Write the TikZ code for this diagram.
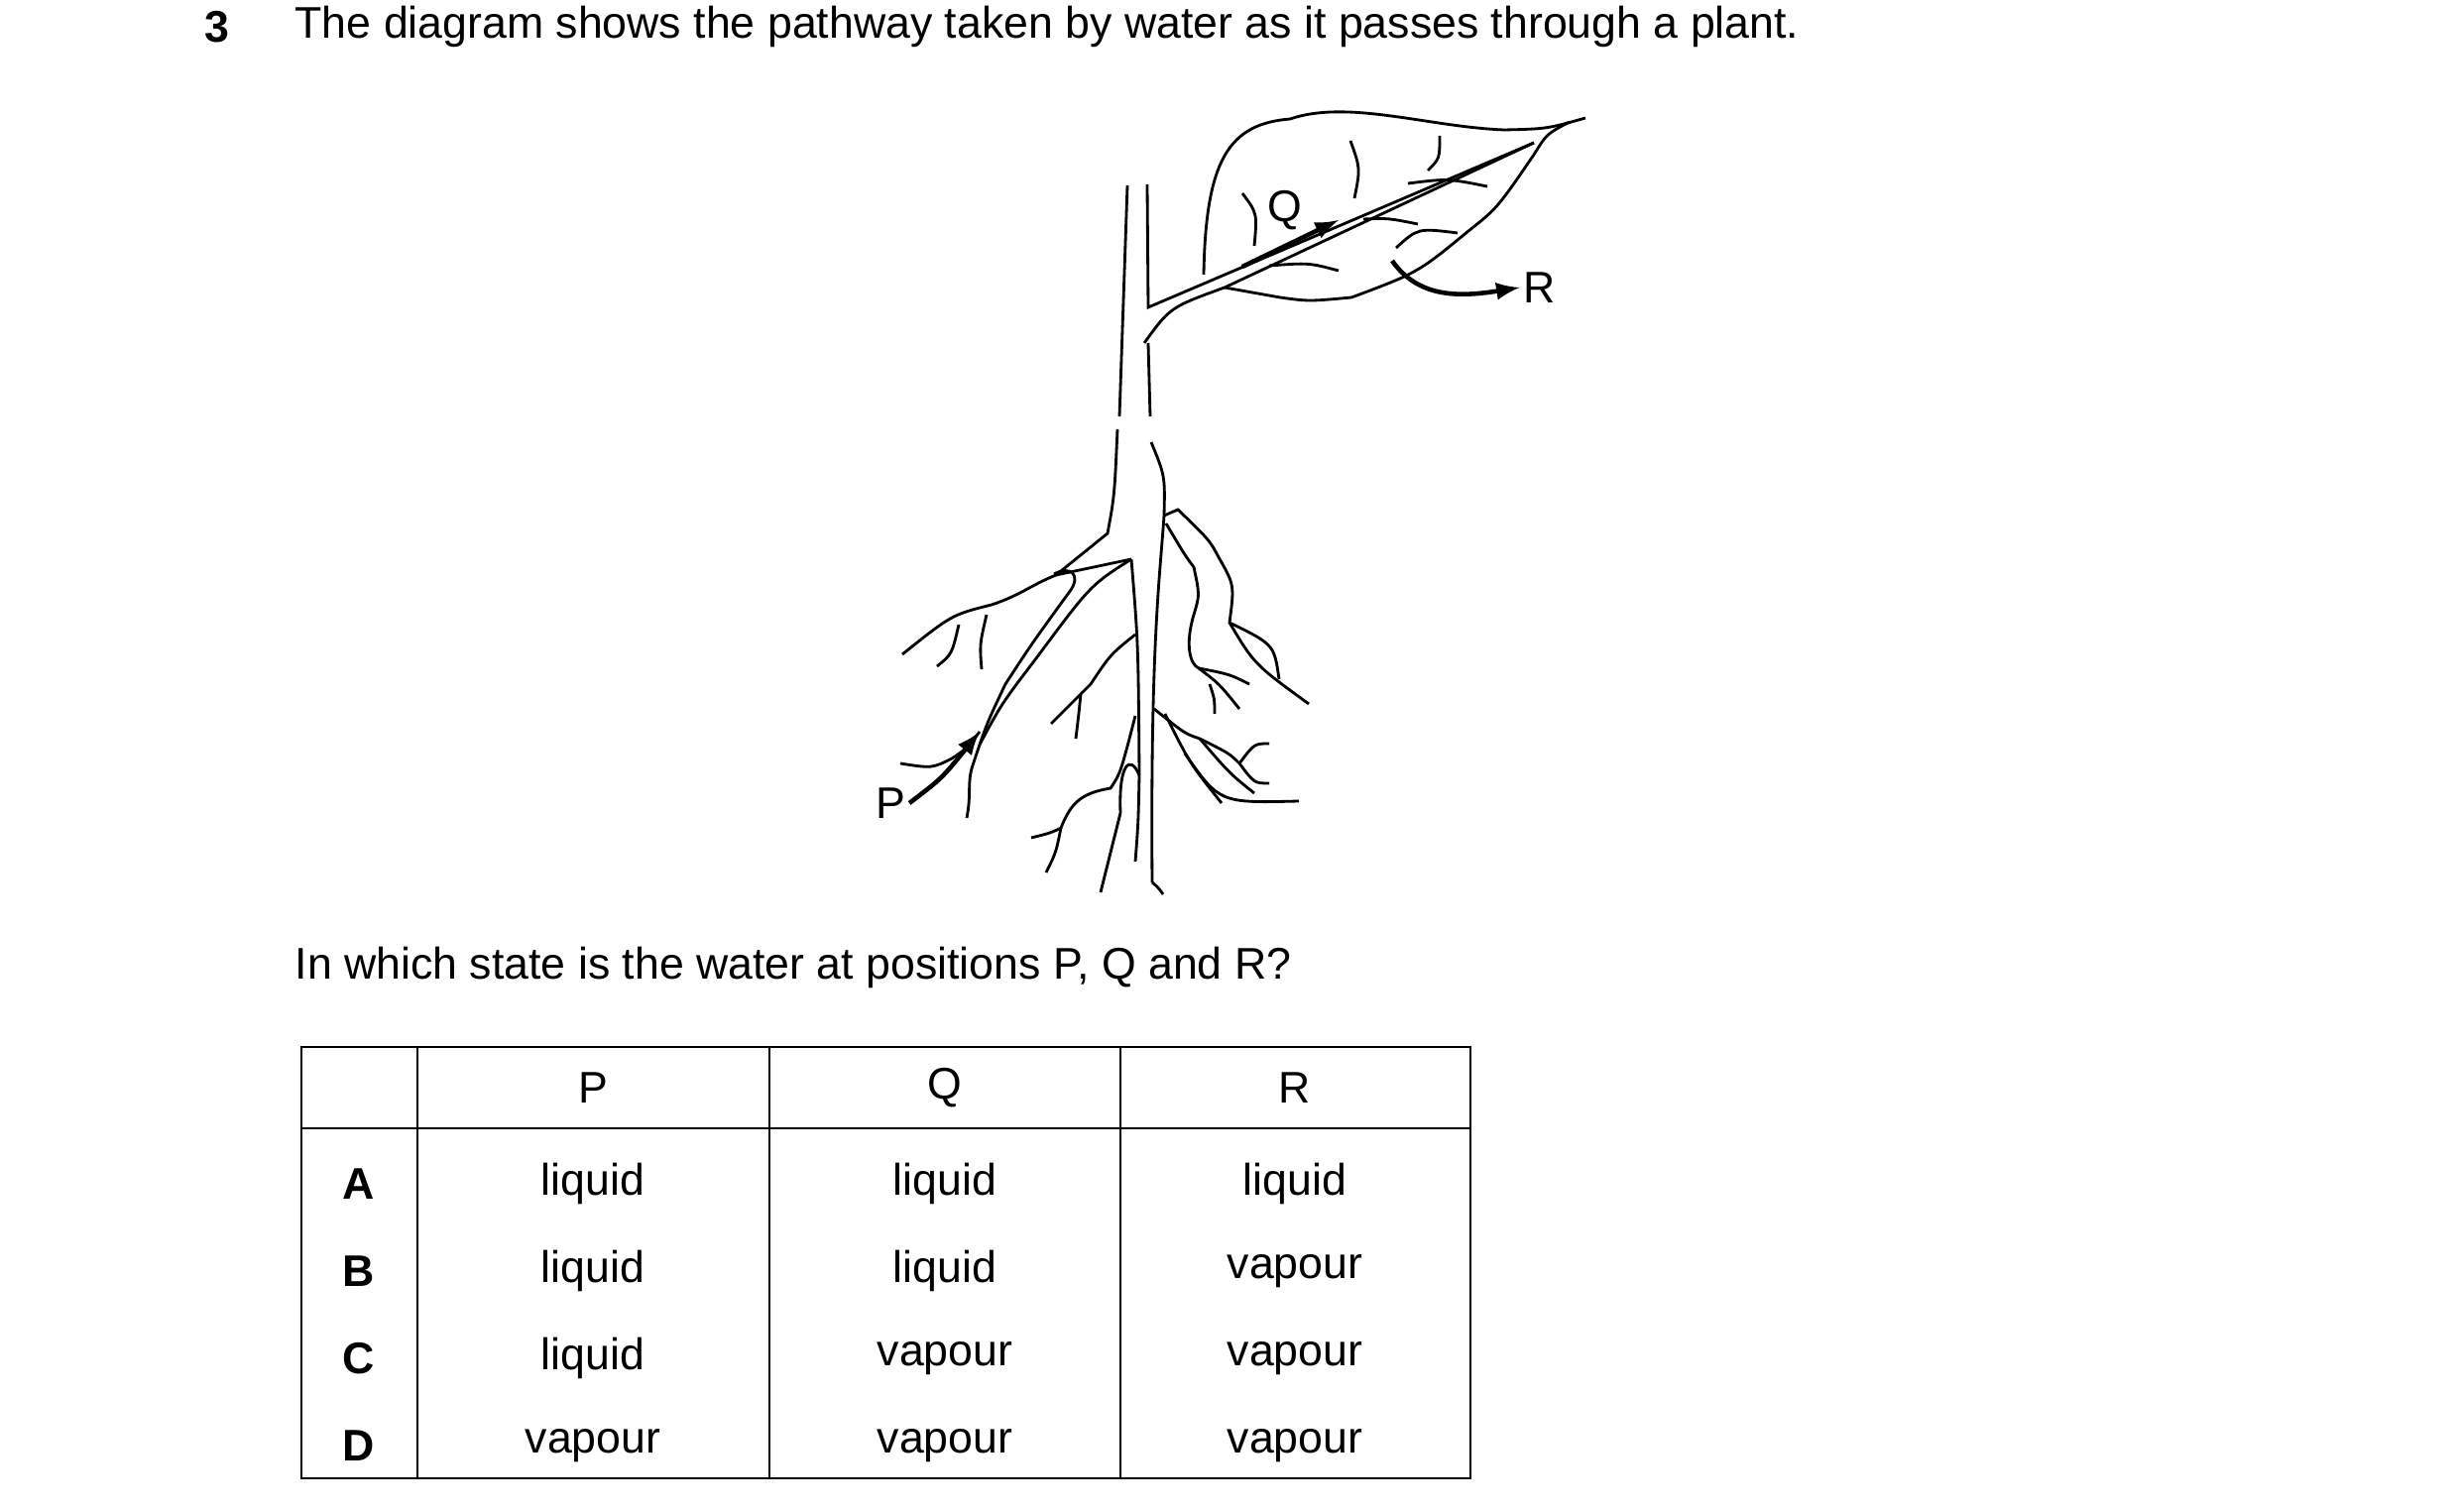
\documentclass[tikz,border=0pt]{standalone}
\usepackage{fontspec}
\setmainfont{Liberation Sans}
\usetikzlibrary{positioning}
\tikzset{
    txt/.style = {font=\fontsize{12.7}{15}\selectfont, inner sep=0pt},
    lbl/.style = {font=\fontsize{12.7}{15}\selectfont, inner sep=1pt},
    plant/.style = {line width=0.8pt},
    flow/.style = {line width=1.3pt, -latex},
}
\begin{document}
\begin{tikzpicture}[x=0.01cm, y=-0.01cm]
\useasboundingbox (0,0) rectangle (2480,1525);
% question
\node[txt, font=\fontsize{12.7}{15}\selectfont\bfseries] (num) at (219,27) {3};
\node[txt, anchor=west] (title) at (297,27) {The diagram shows the pathway taken by water as it passes through a plant.};
% stem and petiole
\draw[plant] (1137,187) -- (1129,420);
\draw[plant] (1127,433) .. controls (1124,500) .. (1117,538) -- (1065,580);
\draw[plant] (1157,186) -- (1158,310) -- (1547,144);
\draw[plant] (1158,346) -- (1160,420);
\draw[plant] (1154,346) .. controls (1180,310) .. (1235,290) -- (1547,144);
% leaf
\draw[plant] (1214,277) .. controls (1216,160) and (1240,125) .. (1301,120)
  .. controls (1360,100) and (1440,128) .. (1517,131) .. controls (1560,130) .. (1599,119);
\draw[plant] (1583,123) .. controls (1560,135) .. (1547,156) .. controls (1510,210) .. (1481,233)
  .. controls (1430,275) .. (1363,300) .. controls (1320,304) .. (1291,300) -- (1235,290);
\draw[plant] (1253,195) .. controls (1268,215) .. (1265,248);
\draw[plant] (1362,142) .. controls (1372,170) .. (1366,200);
\draw[plant] (1452,137) .. controls (1452,160) .. (1440,172);
\draw[plant] (1280,268) .. controls (1320,265) .. (1350,273);
\draw[plant] (1375,221) .. controls (1400,220) .. (1430,226);
\draw[plant] (1420,185) .. controls (1460,180) .. (1500,188);
\draw[plant] (1408,250) .. controls (1430,230) .. (1470,235);
% taproot
\draw[plant] (1161,446) .. controls (1175,480) .. (1174,520) .. controls (1170,580) and (1160,650) .. (1162,890);
\draw[plant] (1141,564) .. controls (1148,650) .. (1149,782) .. controls (1148,830) .. (1145,869);
\draw[plant] (1065,580) -- (1141,564);
\draw[plant] (1162,890) .. controls (1168,895) .. (1173,902);
\draw[plant] (1149,782) .. controls (1140,760) and (1128,770) .. (1130,820) .. controls (1120,860) .. (1110,900);
% left root
\draw[plant] (1065,580) .. controls (1040,590) and (1030,600) .. (1000,610) .. controls (960,620) .. (910,660);
\draw[plant] (1063,579) .. controls (1080,570) and (1090,580) .. (1080,595) .. controls (1040,650) .. (1014,690)
  .. controls (995,730) .. (981,772) .. controls (975,790) and (980,800) .. (975,825);
\draw[plant] (1141,564) .. controls (1100,590) .. (1045,664) .. controls (1010,710) .. (988,751);
\draw[plant] (908,770) .. controls (940,775) .. (960,765) .. controls (975,755) .. (988,738);
\draw[plant] (967,630) .. controls (960,660) .. (945,672);
\draw[plant] (995,620) .. controls (988,650) .. (990,675);
% left rootlets
\draw[plant] (1145,640) .. controls (1120,660) .. (1100,690) .. controls (1080,710) .. (1060,730);
\draw[plant] (1090,700) .. controls (1088,720) .. (1085,745);
\draw[plant] (1145,722) .. controls (1130,780) .. (1120,795) .. controls (1090,800) and (1080,810) .. (1070,835) .. controls (1060,840) .. (1040,845);
\draw[plant] (1070,835) .. controls (1065,860) .. (1055,880);
% right root
\draw[plant] (1174,520) -- (1188,514) .. controls (1220,545) .. (1229,562) .. controls (1245,590) .. (1240,628)
  .. controls (1285,650) .. (1290,685);
\draw[plant] (1240,628) .. controls (1265,670) .. (1320,710);
\draw[plant] (1176,528) .. controls (1195,560) .. (1204,572) .. controls (1210,600) .. (1204,620)
  .. controls (1195,650) and (1200,670) .. (1209,674) .. controls (1230,690) .. (1250,715);
\draw[plant] (1209,674) .. controls (1240,680) .. (1260,690);
\draw[plant] (1220,690) .. controls (1225,705) .. (1225,720);
\draw[plant] (1164,715) .. controls (1195,740) .. (1210,745) .. controls (1240,760) .. (1250,770) .. controls (1265,790) .. (1280,790);
\draw[plant] (1210,745) .. controls (1240,780) .. (1265,800);
\draw[plant] (1250,770) .. controls (1265,750) .. (1280,750);
\draw[plant] (1175,720) .. controls (1200,770) .. (1232,810);
\draw[plant] (1195,760) .. controls (1230,810) .. (1310,808);
% arrows and labels
\node[lbl] (P) at (898,810) {P};
\draw[flow] (P.east) .. controls (950,785) .. (988,738);
\node[lbl, fill=white] (Q) at (1296,212) {Q};
\draw[flow] (1253,269) -- (1350,222);
\node[lbl] (R) at (1553,290) {R};
\draw[flow] (1404,263) .. controls (1430,300) and (1470,300) .. (R.west);
% table
\node[txt, anchor=west] (ask) at (297,976) {In which state is the water at positions P, Q and R?};
\draw[line width=0.8pt] (304,1056) rectangle (1483,1491);
\draw[line width=0.8pt] (304,1138) -- (1483,1138);
\foreach \x in {421,776,1130} \draw[line width=0.8pt] (\x,1056) -- (\x,1491);
\node[txt] (hP) at (598,1097) {P};
\node[txt] (hQ) at (953,1097) {Q};
\node[txt] (hR) at (1306,1097) {R};
\foreach \k/\p/\q/\r [count=\i] in {A/liquid/liquid/liquid,B/liquid/liquid/vapour,C/liquid/vapour/vapour,D/vapour/vapour/vapour}{
  \pgfmathsetmacro{\yy}{1194+(\i-1)*88}
  \node[txt, font=\fontsize{12.7}{15}\selectfont\bfseries] (k\i) at (362,\yy) {\k};
  \node[txt] (p\i) at (598,\yy) {\p};
  \node[txt] (q\i) at (953,\yy) {\q};
  \node[txt] (r\i) at (1306,\yy) {\r};
}
\end{tikzpicture}
\end{document}
